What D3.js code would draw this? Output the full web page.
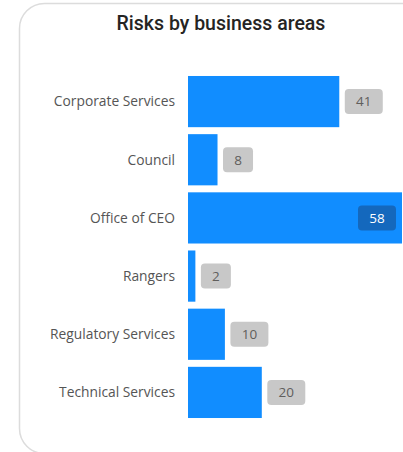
<!DOCTYPE html>
<html>
<head>
<meta charset="utf-8">
<script src="https://cdn.jsdelivr.net/npm/d3@7"></script>
<style>
  body { margin: 0; background: #fff; overflow: hidden; }
  svg { display: block; }
</style>
</head>
<body>
<div id="chart"></div>
<script>
// Data
const areas = ["Corporate Services", "Council", "Office of CEO", "Rangers", "Regulatory Services", "Technical Services"];
const risks = [41, 8, 58, 2, 10, 20];

const W = 403, H = 452;

const svg = d3.select("#chart")
    .append("svg")
        .attr("width", W)
        .attr("height", H)
;

// Card background
svg.append("rect")
    .attr("x", 19.5)
    .attr("y", 3.5)
    .attr("width", 440)
    .attr("height", 450)
    .attr("rx", 25)
    .attr("fill", "#fff")
    .attr("stroke", "#dcdcdc")
    .attr("stroke-width", 1.5)
;

// Title
svg.append("text")
    .attr("x", 221)
    .attr("y", 30)
    .attr("text-anchor", "middle")
    .attr("font-family", "Roboto, sans-serif")
    .attr("font-weight", 500)
    .attr("font-size", 19.5)
    .attr("fill", "#252423")
    .text("Risks by business areas")
;

// Scales
const x = d3.scaleLinear()
    .domain([0, 58])
    .range([188, 402]);
const y = d3.scaleBand()
    .domain(areas)
    .range([72.5, 421.5])
    .paddingInner(0.12)
    .paddingOuter(0.06);

const rows = areas.map((a, i) => ({ area: a, value: risks[i] }));

// Category labels
svg.append("g")
    .selectAll("text")
    .data(rows)
    .join("text")
        .attr("x", 175)
        .attr("y", d => y(d.area) + y.bandwidth() / 2)
        .attr("dy", "0.35em")
        .attr("text-anchor", "end")
        .attr("font-family", "'Open Sans', sans-serif")
        .attr("font-size", 13.8)
        .attr("fill", "#555")
        .text(d => d.area)
;

// Bars
svg.append("g")
    .selectAll("rect")
    .data(rows)
    .join("rect")
        .attr("x", x(0))
        .attr("y", d => y(d.area))
        .attr("width", d => x(d.value) - x(0))
        .attr("height", y.bandwidth())
        .attr("fill", "#118DFF")
;

// Value labels with background boxes
const maxVal = d3.max(risks);
const g_labels = svg.append("g")
    .selectAll("g")
    .data(rows)
    .join("g")
;
const boxW = d => String(d.value).length > 1 ? 38 : 30;
const boxX = d => d.value === maxVal ? x(d.value) - 6 - boxW(d) : x(d.value) + 5.5;
g_labels.append("rect")
    .attr("x", d => boxX(d))
    .attr("y", d => y(d.area) + y.bandwidth() / 2 - 12.5)
    .attr("width", d => boxW(d))
    .attr("height", 25)
    .attr("rx", 4)
    .attr("fill", d => d.value === maxVal ? "#1468bd" : "#c8c8c8")
;
g_labels.append("text")
    .attr("x", d => boxX(d) + boxW(d) / 2)
    .attr("y", d => y(d.area) + y.bandwidth() / 2)
    .attr("dy", "0.36em")
    .attr("text-anchor", "middle")
    .attr("font-family", "'Open Sans', sans-serif")
    .attr("font-size", 13.5)
    .attr("fill", d => d.value === maxVal ? "#fff" : "#605e5c")
    .text(d => d.value)
;
</script>
</body>
</html>
